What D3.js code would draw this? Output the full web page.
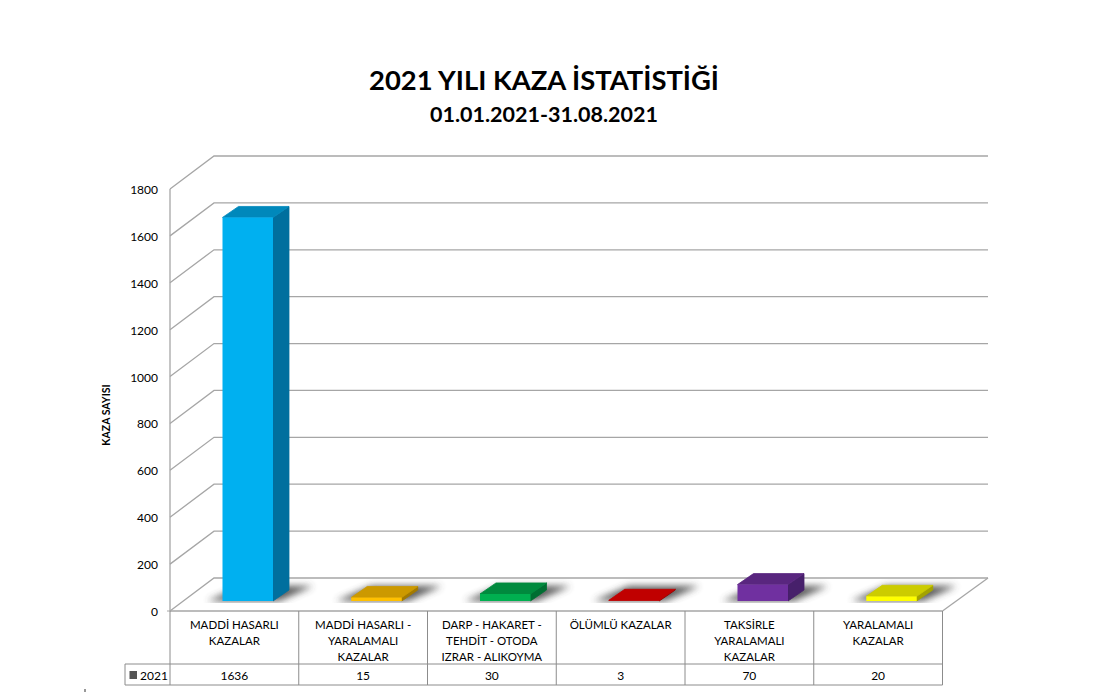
<!DOCTYPE html>
<html><head><meta charset="utf-8">
<script src="https://cdn.jsdelivr.net/npm/d3@7"></script>
<style>
html,body{margin:0;padding:0;background:#fff}
svg{display:block}
text{font-family:Lato,"Open Sans",sans-serif;fill:#000}
</style></head><body>
<svg id="c" width="1104" height="692"></svg>
<script>
const chartTitle = "2021 YILI KAZA İSTATİSTİĞİ";
const chartSubtitle = "01.01.2021-31.08.2021";
const yTitle = "KAZA SAYISI";
const seriesName = "2021";
const categories = [
  ["MADDİ HASARLI","KAZALAR"],
  ["MADDİ HASARLI -","YARALAMALI","KAZALAR"],
  ["DARP - HAKARET -","TEHDİT - OTODA","IZRAR - ALIKOYMA"],
  ["ÖLÜMLÜ KAZALAR"],
  ["TAKSİRLE","YARALAMALI","KAZALAR"],
  ["YARALAMALI","KAZALAR"]
];
const values = [1636,15,30,3,70,20];
const frontColors = ["#00b0f0","#ffc000","#00b050","#c00000","#7030a0","#ffff00"];
const topColors   = ["#0088bb","#cc9900","#008a3e","#c00000","#59267f","#cccc00"];
const sideColors  = ["#006f9e","#a37a00","#006e32","#8f0000","#47206b","#a3a300"];
const yTicks = [0,200,400,600,800,1000,1200,1400,1600,1800];

const svg = d3.select("#c");
const idx = categories.map((d,i)=>i);
const x = d3.scaleBand().domain(idx).range([170,942.5]);
const y = d3.scaleLinear().domain([0,1800]).range([611,189]);
const wall = {dx:44, dy:-33};
const bar = {inset:52.5, w:50.5, lift:10, dx:16, dy:-11};
const gridC = "#a6a6a6", tableC = "#8c8c8c";

const defs = svg.append("defs");
defs.append("filter").attr("id","blur").attr("x","-30%").attr("y","-80%").attr("width","160%").attr("height","260%")
  .append("feGaussianBlur").attr("stdDeviation",3.5);
defs.append("clipPath").attr("id","floor").append("rect")
  .attr("x",172).attr("y",579).attr("width",800).attr("height",24);

// titles
svg.append("text").attr("x",544).attr("y",90).attr("text-anchor","middle")
  .attr("font-size",27.4).attr("font-weight",700).text(chartTitle);
svg.append("text").attr("x",544).attr("y",122).attr("text-anchor","middle")
  .attr("font-size",21.5).attr("font-weight",700).text(chartSubtitle);

// walls and grid
const line = d3.line();
const g = svg.append("g").attr("fill","none").attr("stroke",gridC).attr("stroke-width",1.3);
yTicks.forEach(t=>{
  const yy=y(t);
  g.append("path").attr("d",line([[x.range()[0],yy],[x.range()[0]+wall.dx,yy+wall.dy],[988,yy+wall.dy]]));
});
g.append("path").attr("d",line([[x.range()[0],y(0)],[x.range()[0],y(1800)]]));
g.append("path").attr("d",line([[x.range()[1],y(0)],[988,y(0)+wall.dy]]));
g.append("path").attr("d",line([[x.range()[0],y(0)],[x.range()[1],y(0)]]));

// y labels
svg.append("g").selectAll("text").data(yTicks).join("text")
  .attr("x",158).attr("y",d=>y(d)+5).attr("text-anchor","end").attr("font-size",12).text(d=>d);
svg.append("line").attr("x1",167).attr("x2",170).attr("y1",y(0)).attr("y2",y(0)).attr("stroke",gridC);
svg.append("text").attr("transform","translate(110,415) rotate(-90)").attr("text-anchor","middle")
  .attr("font-size",10.5).attr("font-weight",700).text(yTitle);

// shadows
const shadowLayer = svg.append("g").attr("clip-path","url(#floor)");
idx.forEach(i=>{
  const l=x(i)+bar.inset, r=l+bar.w, b=y(0)-bar.lift;
  shadowLayer.append("path").attr("filter","url(#blur)").attr("fill","#4a4a4a").attr("opacity",0.9)
    .attr("d",line([[l-15,b],[r+6,b],[r+bar.dx+24,b-15],[l+bar.dx+4,b-15]])+"Z");
});

// bars
idx.forEach(i=>{
  const l=x(i)+bar.inset, r=l+bar.w, b=y(0)-bar.lift, t=y(values[i])-bar.lift;
  const gg=svg.append("g").attr("stroke-width",0.8).attr("stroke-linejoin","round");
  gg.append("path").attr("fill",sideColors[i]).attr("stroke",sideColors[i])
    .attr("d",line([[r,t],[r+bar.dx,t+bar.dy],[r+bar.dx,b+bar.dy],[r,b]])+"Z");
  gg.append("path").attr("fill",topColors[i]).attr("stroke",topColors[i])
    .attr("d",line([[l,t],[l+bar.dx,t+bar.dy],[r+bar.dx,t+bar.dy],[r,t]])+"Z");
  gg.append("rect").attr("x",l).attr("y",t).attr("width",bar.w).attr("height",b-t)
    .attr("fill",frontColors[i]);
});

// data table
const T = {top:y(0), mid:664, bot:685, left:125};
const tg = svg.append("g").attr("stroke",tableC).attr("stroke-width",1).attr("fill","none");
tg.append("path").attr("d",line([[T.left,T.mid],[x.range()[1],T.mid]]));
tg.append("path").attr("d",line([[T.left,T.bot],[x.range()[1],T.bot]]));
tg.append("path").attr("d",line([[T.left,T.mid],[T.left,T.bot]]));
idx.concat([categories.length]).forEach(i=>{
  const xx = i<categories.length ? x(i) : x.range()[1];
  tg.append("path").attr("d",line([[xx,T.top],[xx,T.bot]]));
});
idx.forEach(i=>{
  const cx=x(i)+x.bandwidth()/2;
  svg.append("text").attr("text-anchor","middle").attr("font-size",11.5).attr("fill","#000")
    .selectAll("tspan").data(categories[i]).join("tspan")
    .attr("x",cx).attr("y",(d,j)=>628.5+j*16).text(d=>d);
  svg.append("text").attr("x",cx).attr("y",679.5).attr("text-anchor","middle").attr("font-size",12).text(values[i]);
});
svg.append("rect").attr("x",129.5).attr("y",671).attr("width",7.5).attr("height",8).attr("fill","#555");
svg.append("text").attr("x",140).attr("y",679.5).attr("font-size",12).text(seriesName);
svg.append("line").attr("x1",85).attr("x2",85).attr("y1",689).attr("y2",692).attr("stroke","#333");
</script>
</body></html>
